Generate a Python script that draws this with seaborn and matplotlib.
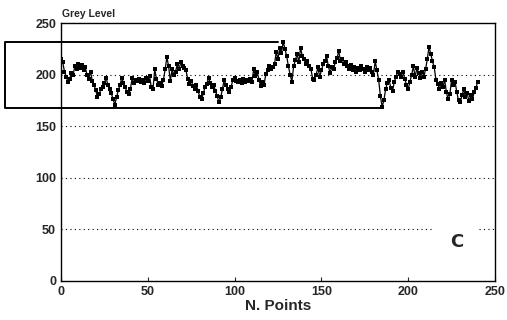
import numpy as np
import pandas as pd
import matplotlib
matplotlib.use("Agg")
import matplotlib.pyplot as plt
import seaborn as sns
from matplotlib.lines import Line2D

grey_level = [
    215, 212, 203, 198, 193, 196, 202, 200, 208, 205,
    210, 206, 209, 204, 207, 200, 196, 203, 194, 190,
    185, 178, 181, 186, 188, 192, 197, 190, 186, 182,
    176, 171, 178, 185, 190, 197, 192, 188, 183, 181,
    186, 197, 192, 195, 194, 196, 193, 195, 192, 197,
    194, 199, 188, 186, 205, 196, 190, 192, 189, 195,
    205, 217, 208, 194, 205, 200, 203, 210, 205, 212,
    208, 206, 204, 196, 191, 194, 189, 186, 190, 184,
    178, 176, 182, 188, 191, 197, 192, 188, 190, 184,
    179, 173, 178, 186, 195, 190, 186, 183, 188, 195,
    197, 194, 193, 195, 192, 196, 193, 195, 194, 196,
    193, 205, 199, 203, 195, 189, 193, 190, 201, 204,
    208, 205, 207, 210, 222, 215, 226, 221, 232, 225,
    218, 208, 200, 193, 208, 214, 220, 212, 226, 218,
    215, 210, 213, 208, 205, 196, 195, 200, 207, 198,
    204, 210, 213, 218, 208, 202, 207, 205, 212, 216,
    223, 213, 215, 210, 212, 208, 205, 209, 204, 207,
    203, 206, 204, 208, 205, 203, 207, 204, 206, 203,
    200, 213, 204, 195, 179, 169, 175, 186, 192, 195,
    187, 184, 193, 198, 203, 201, 198, 203, 196, 190,
    186, 193, 200, 208, 198, 206, 202, 197, 203, 198,
    205, 215, 227, 220, 213, 207, 195, 191, 186, 192,
    188, 195, 183, 176, 181, 195, 190, 193, 183, 175,
    173, 180, 186, 178, 182, 174, 180, 176, 183, 187, 193,
]
n_points = list(range(len(grey_level)))
x_ticks = [0, 50, 100, 150, 200, 250]
y_ticks = [0, 50, 100, 150, 200, 250]
grid_levels = [50, 100, 150, 200]

df = pd.DataFrame({"N. Points": n_points, "Grey Level": grey_level})

sns.set_style("ticks")
plt.rcParams["font.family"] = ["Liberation Sans", "DejaVu Sans"]

fig = plt.figure(figsize=(5.07, 3.2), dpi=100)
ax = fig.add_axes([0.1203, 0.122, 0.856, 0.806])

# dotted grid lines
for lv in grid_levels:
    if lv == 50:
        ax.hlines(lv, 0, 215, colors="black", linestyles=(0, (1, 3)), linewidth=0.8)
        ax.hlines(lv, 241, 250, colors="black", linestyles=(0, (1, 3)), linewidth=0.8)
    else:
        ax.hlines(lv, 0, 250, colors="black", linestyles=(0, (1, 3)), linewidth=0.8)

sns.lineplot(data=df, x="N. Points", y="Grey Level", ax=ax, color="black",
             linewidth=0.9, marker="s", markersize=2.6, markeredgewidth=0,
             markerfacecolor="black")

ax.set_xlim(0, 250)
ax.set_ylim(0, 250)
ax.set_xticks(x_ticks)
ax.set_yticks(y_ticks)
ax.tick_params(axis="both", direction="in", length=3, width=0.8, labelsize=9)
ax.tick_params(axis="y", length=0)
for lab in ax.get_xticklabels() + ax.get_yticklabels():
    lab.set_fontweight("bold")
for s in ax.spines.values():
    s.set_linewidth(1.0)
    s.set_color("black")

ax.set_xlabel("N. Points", fontsize=11, fontweight="bold", labelpad=1)
ax.set_ylabel("")
fig.text(0.122, 0.955, "Grey Level", fontsize=7.5, fontweight="bold", ha="left", va="center")

ax.text(228, 38, "C", fontsize=13, fontweight="bold", ha="center", va="center",
        family=["Liberation Sans Narrow", "DejaVu Sans"])

# open rectangle annotation
rect = Line2D([125, -32, -32, 184], [231.5, 231.5, 168, 168], color="black",
              linewidth=1.4, clip_on=False)
ax.add_line(rect)

fig.savefig("out.png", dpi=100)
